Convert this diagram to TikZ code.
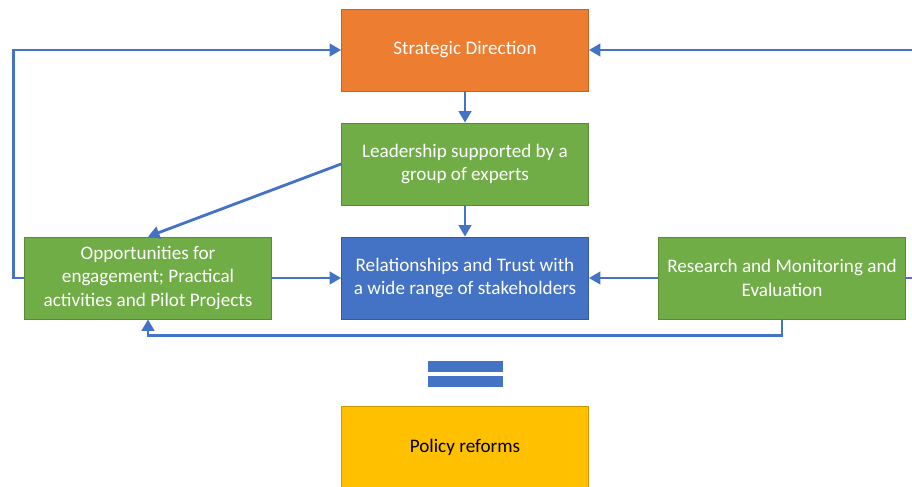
\documentclass[tikz,border=0pt]{standalone}
\usepackage{fontspec}
\setmainfont{Carlito}
\usetikzlibrary{arrows.meta}
\definecolor{dirorange}{HTML}{ED7D31}
\definecolor{leadgreen}{HTML}{70AD47}
\definecolor{relblue}{HTML}{4472C4}
\definecolor{policygold}{HTML}{FFC000}
\tikzset{
  box/.style={draw=#1!80!black,line width=0.4pt,fill=#1,text=white,
    minimum width=4.94cm,minimum height=1.64cm,inner sep=2pt,align=center,
    font=\fontsize{10.9}{13.6}\selectfont},
  link/.style={color=relblue,line width=1.6pt,-{Triangle[length=6.5pt,width=7pt]}}
}
\begin{document}
\begin{tikzpicture}
  \useasboundingbox (0,0) rectangle (18.24,9.72);
  \clip (0,0) rectangle (18.24,9.72);
  \node[box=dirorange]  (strat)    at (9.30,8.72) {Strategic Direction};
  \node[box=leadgreen]  (lead)     at (9.30,6.44) {Leadership supported by a\\group of experts};
  \node[box=relblue]    (rel)      at (9.30,4.16) {Relationships and Trust with\\a wide range of stakeholders};
  \node[box=leadgreen]  (opp)      at (2.96,4.16) {Opportunities for\\engagement; Practical\\activities and Pilot Projects};
  \node[box=leadgreen]  (research) at (15.64,4.16) {Research and Monitoring and\\Evaluation};
  \node[box=policygold,text=black] (policy) at (9.30,0.78) {Policy reforms};
  \path[link]
    (strat) edge (lead)
    (lead) edge (rel)
    (lead.west) edge (opp.north)
    (opp) edge (rel)
    (research) edge (rel);
  % feedback loops
  \draw[link] (opp.west) -- ++(-0.22,0) |- (strat.west);
  \draw[link] (research.east) -- ++(0.25,0) |- (strat.east);
  \draw[link] (research.south) -- ++(0,-0.32) -| (opp.south);
  % the equals sign
  \fill[relblue] (8.56,2.28) rectangle (10.06,2.50);
  \fill[relblue] (8.56,1.98) rectangle (10.06,2.20);
\end{tikzpicture}
\end{document}
